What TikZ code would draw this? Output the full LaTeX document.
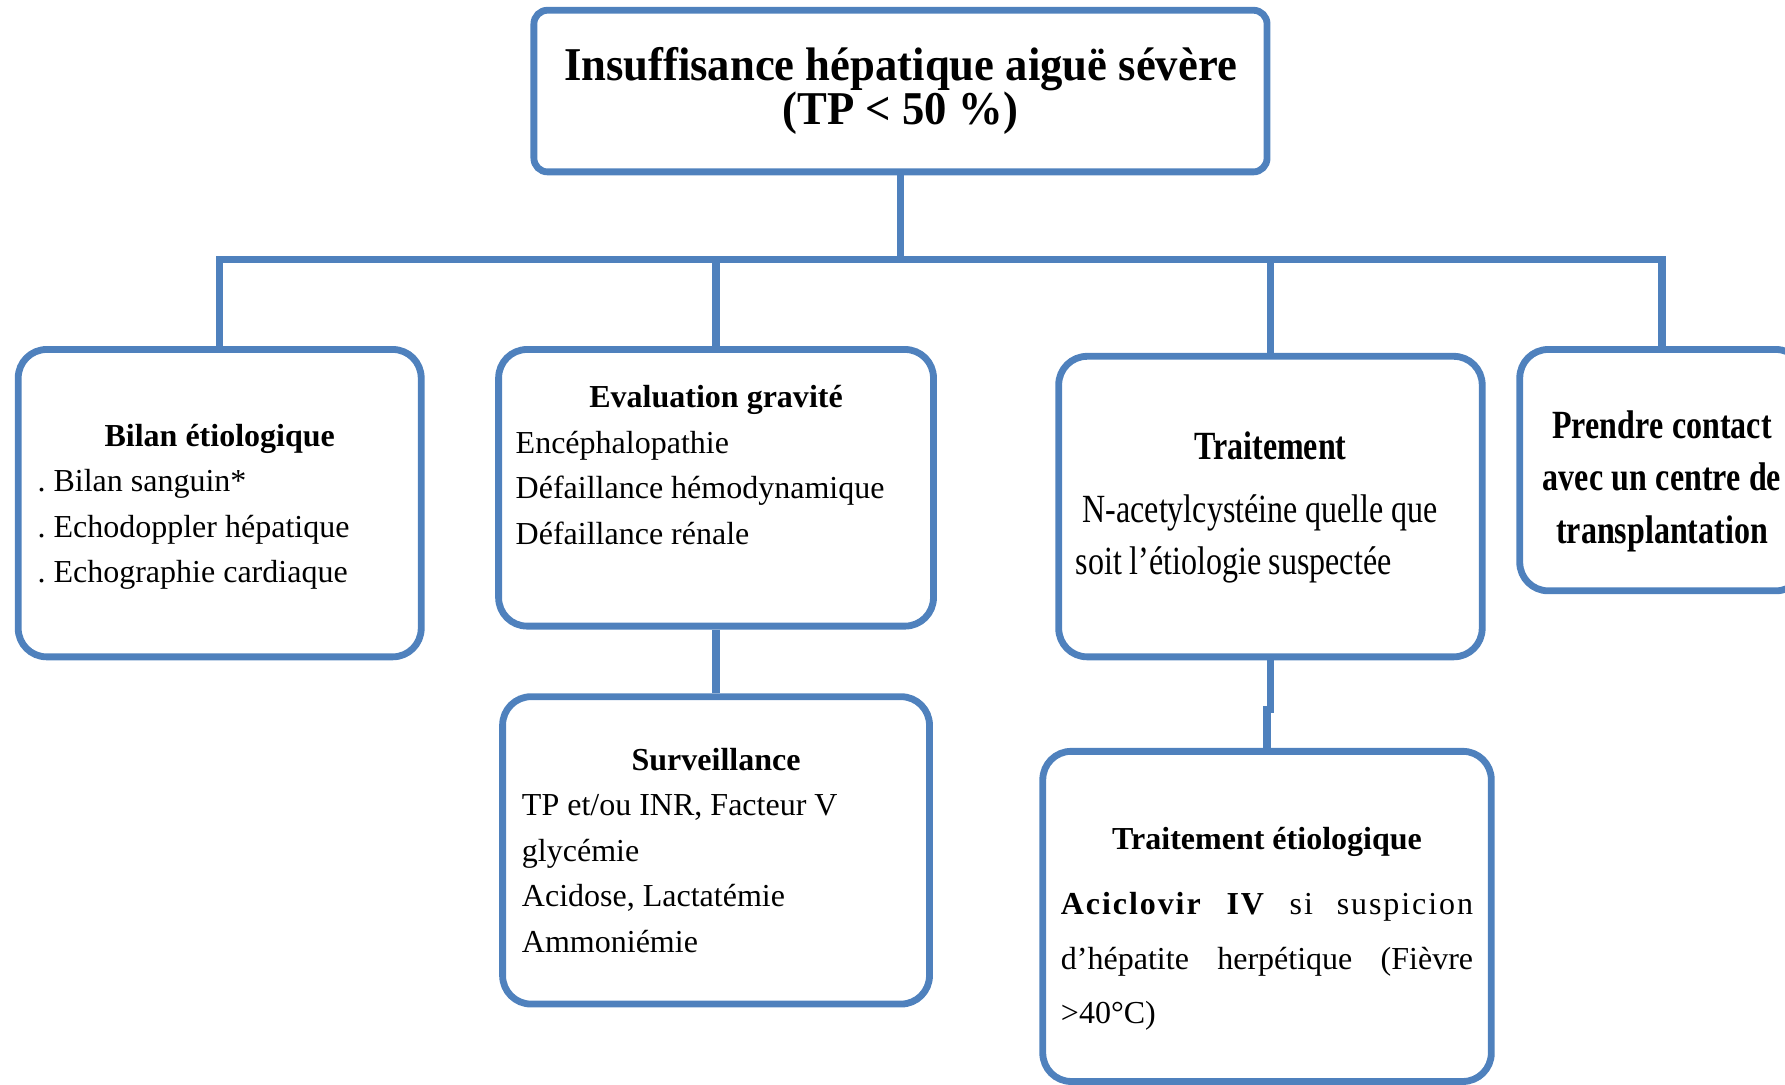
\documentclass[tikz,border=0pt]{standalone}
\usepackage{fontspec}
\setmainfont{Liberation Serif}
\newfontfamily\narrowfont[FakeStretch=0.8]{Liberation Serif}
\newfontfamily\titlefont[FakeStretch=0.95]{Liberation Serif}
\usepackage{tikz}
\setlength{\parindent}{0pt}
\frenchspacing
\definecolor{boxblue}{RGB}{79,129,189}
\newcommand{\boxhead}[1]{\hfill\textbf{#1}\hfill\null\\}

\begin{document}
\begin{tikzpicture}[x=0.2mm, y=-0.2mm,
  box/.style={draw=boxblue, line width=1.2mm, rounded corners=5mm, inner sep=0pt, align=left,
    font={\fontsize{16}{22.76}\selectfont},
    execute at begin node={\spaceskip=4pt plus 2pt minus 1pt}},
  narrowbox/.style={box, font={\narrowfont\fontsize{20}{#1}\selectfont},
    execute at begin node={\spaceskip=3.8pt plus 2pt minus 1pt}},
  link/.style={draw=boxblue, line width=1.3mm}]
  \useasboundingbox (0,0) rectangle (1568,953);
  \clip (0,0) rectangle (1568,953);

  \node[box, rounded corners=2.4mm, align=center, minimum width=128.8mm, minimum height=28.4mm,
    font={\titlefont\bfseries\fontsize{23.5}{22}\selectfont\lineskiplimit=-20pt},
    execute at begin node={\spaceskip=5.6pt plus 2pt minus 1pt}] (top) at (791,80)
    {Insuffisance hépatique aiguë sévère\\(TP < 50 \%)};

  \node[box, minimum width=70.8mm, minimum height=54mm, text width=64mm] (bilan) at (193,442)
    {\rule{0pt}{14.6pt}\boxhead{Bilan étiologique}. Bilan sanguin*\\. Echodoppler hépatique\\. Echographie cardiaque};
  \node[box, minimum width=76.4mm, minimum height=48.6mm, text width=70.4mm] (eval) at (629,428.5)
    {\boxhead{Evaluation gravité}Encéphalopathie\\Défaillance hémodynamique\\Défaillance rénale\\\mbox{}};
  \node[narrowbox=26, minimum width=74.4mm, minimum height=52.8mm, text width=68.4mm] (trait) at (1116,445)
    {\rule{0pt}{15pt}\boxhead{Traitement}[5.5pt]\hspace*{1.2mm}N-acetylcystéine quelle que\\soit l’étiologie suspectée};
  \node[narrowbox=26.4, align=center, minimum width=50mm, minimum height=42.4mm, text width=48mm] (contact) at (1460,413)
    {\rule{0pt}{25pt}\textbf{Prendre contact}\\\textbf{avec un centre de}\\\textbf{transplantation}};
  \node[box, minimum width=75mm, minimum height=54mm, text width=68.2mm] (surv) at (629,747)
    {\boxhead{Surveillance}TP et/ou INR, Facteur V\\glycémie\\Acidose, Lactatémie\\Ammoniémie};
  \node[box, minimum width=78.8mm, minimum height=58mm, text width=72.4mm,
    font={\fontsize{16}{27.3}\selectfont}] (etio) at (1113,805)
    {\rule{0pt}{23.7pt}\boxhead{Traitement étiologique}[5pt]{\addfontfeature{LetterSpace=6}\textbf{Aciclovir}\hfill\textbf{IV}\hfill si\hfill suspicion}\\d’hépatite\hfill herpétique\hfill (Fièvre\\>40°C)};

  \coordinate (bus) at (791,228);
  \draw[link] (top.south) -- (bus);
  \draw[link] (bilan.north) -- (bilan.north |- bus) -- (contact.north |- bus) -- (contact.north);
  \draw[link] (eval.north) -- (eval.north |- bus);
  \draw[link] (trait.north) -- (trait.north |- bus);
  \draw[link] (eval.south) -- (surv.north);
  \draw[link] (trait.south) -- ++(0,43) -| (etio.north);
\end{tikzpicture}
\end{document}
